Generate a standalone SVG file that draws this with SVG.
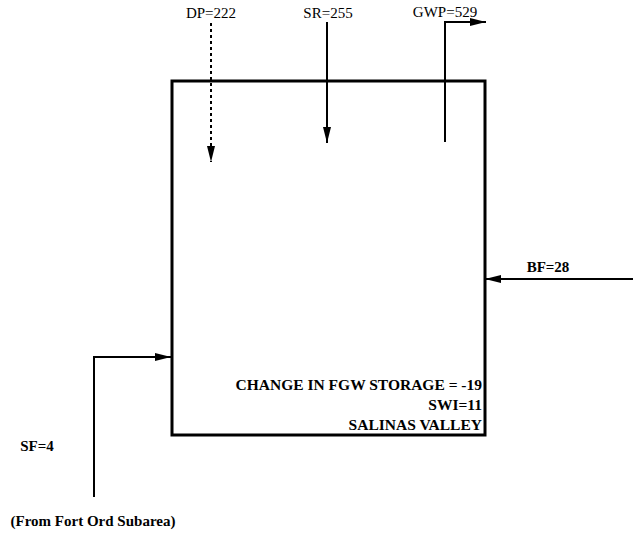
<svg xmlns="http://www.w3.org/2000/svg" width="633" height="539" viewBox="0 0 633 539">
<defs>
<style>
text{font-family:"Liberation Serif","Times New Roman",Times,serif;font-size:15px;fill:#000}
.b{font-weight:bold}
.big{font-size:15.5px}
.ln{stroke:#000;stroke-width:2;fill:none}
</style>
<marker id="ah" viewBox="0 0 16 9" refX="16" refY="4.5" markerWidth="16" markerHeight="9" orient="auto" markerUnits="userSpaceOnUse">
<path d="M0,0.5 L16,4.5 L0,8.5 Z" fill="#000"/>
</marker>
</defs>
<rect width="633" height="539" fill="#fff"/>
<g id="salinas-valley">
<rect x="172" y="81" width="313" height="354" fill="none" stroke="#000" stroke-width="3"/>
<text class="b big" x="482" y="390" text-anchor="end">CHANGE IN FGW STORAGE = -19</text>
<text class="b big" x="482" y="410" text-anchor="end">SWI=11</text>
<text class="b big" x="482" y="430" text-anchor="end">SALINAS VALLEY</text>
</g>
<g id="labels">
<text x="211" y="18" text-anchor="middle">DP=222</text>
<text x="328" y="18" text-anchor="middle">SR=255</text>
<text x="445" y="17" text-anchor="middle">GWP=529</text>
<text class="b" x="548" y="272" text-anchor="middle">BF=28</text>
<text class="b" x="37" y="451" text-anchor="middle">SF=4</text>
<text class="b" x="93" y="526" text-anchor="middle">(From Fort Ord Subarea)</text>
</g>
<g id="connectors">
<line class="ln" x1="211" y1="23" x2="211" y2="162" stroke-dasharray="3,3" stroke-width="2.5" marker-end="url(#ah)"/>
<line class="ln" x1="327" y1="22" x2="327" y2="143" marker-end="url(#ah)"/>
<polyline class="ln" points="445,142 445,22 486,22" marker-end="url(#ah)"/>
<line class="ln" x1="633" y1="279" x2="485" y2="279" marker-end="url(#ah)"/>
<polyline class="ln" points="94,497 94,357 171,357" marker-end="url(#ah)"/>
</g>
</svg>
